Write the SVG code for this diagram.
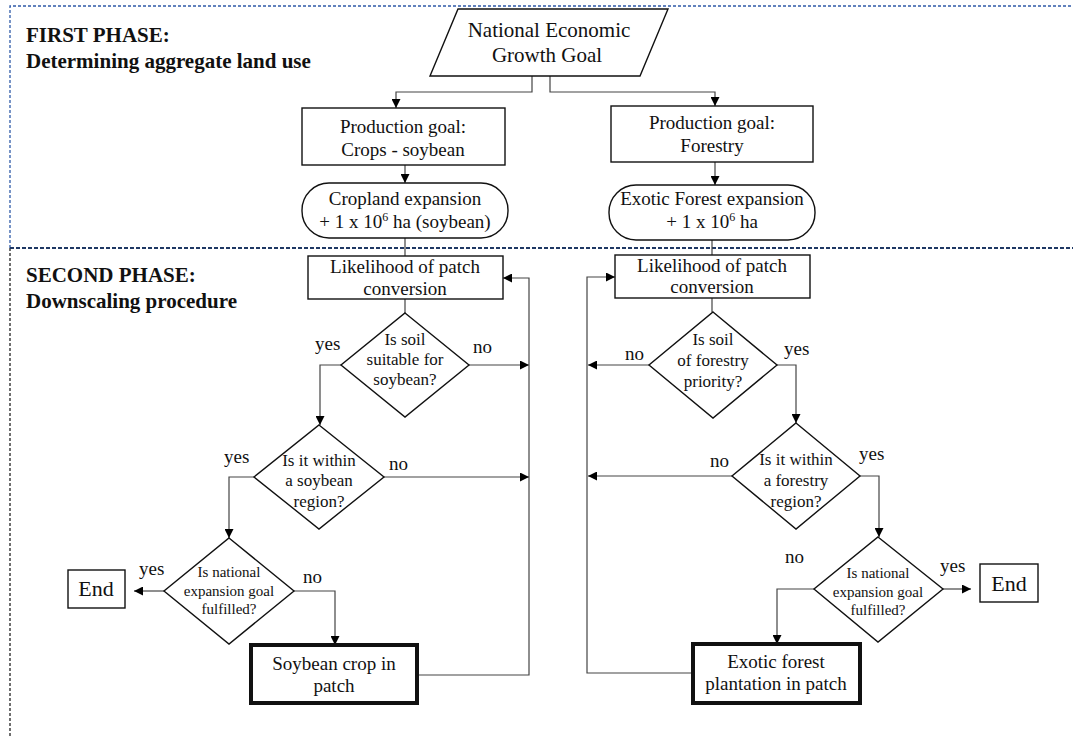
<svg xmlns="http://www.w3.org/2000/svg" width="1073" height="737" viewBox="0 0 1073 737" font-family="Liberation Serif, DejaVu Serif, serif">
<defs>
<style>
text{font-family:'Liberation Serif','DejaVu Serif',serif;fill:#111;}
.t{font-size:19px;text-anchor:middle;}
.d{font-size:17px;text-anchor:middle;}
.s{font-size:15px;text-anchor:middle;}
.lb{font-size:19px;}
.h{font-size:21px;font-weight:bold;}
.e{font-size:22px;text-anchor:middle;}
.box{fill:#fff;stroke:#111;stroke-width:1.4;}
.thick{fill:#fff;stroke:#111;stroke-width:4;}
.c{fill:none;stroke:#444;stroke-width:1.2;}
.ca{fill:none;stroke:#444;stroke-width:1.2;marker-end:url(#ah);}
</style>
<marker id="ah" viewBox="0 0 10 10" refX="10" refY="5" markerWidth="9" markerHeight="9" markerUnits="userSpaceOnUse" orient="auto">
<path d="M0,0 L10,5 L0,10 z" fill="#000"/>
</marker>
</defs>
<rect width="1073" height="737" fill="#fff"/>

<g id="frame">
<path d="M10,248 V6 H1073" fill="none" stroke="#2f5aa8" stroke-width="1.3" stroke-dasharray="3,2"/>
<path d="M10,248 V737" fill="none" stroke="#222" stroke-width="1.3" stroke-dasharray="3,2"/>
<path d="M10,248 H1073" fill="none" stroke="#1f3864" stroke-width="1.8" stroke-dasharray="4,2"/>
</g>

<g id="titles">
<text class="h" x="26" y="42">FIRST PHASE:</text>
<text class="h" x="26" y="68">Determining aggregate land use</text>
<text class="h" x="26" y="282">SECOND PHASE:</text>
<text class="h" x="26" y="308">Downscaling procedure</text>
</g>

<g id="connectors">
<path class="ca" d="M532,76 V92 H396 V108"/>
<path class="ca" d="M550,76 V92 H715 V106"/>
<path class="ca" d="M405,165 V183"/>
<path class="ca" d="M715,162 V185"/>
<path class="c" d="M405,238 V256"/>
<path class="c" d="M712,240 V255"/>
<path class="c" d="M405,299 V313"/>
<path class="ca" d="M469,365 H529"/>
<path class="ca" d="M417,675 H529 V278 H503"/>
<path class="ca" d="M341,365 H320 V425"/>
<path class="ca" d="M384,477 H529"/>
<path class="ca" d="M254,477 H229 V538"/>
<path class="ca" d="M164,591 H134"/>
<path class="ca" d="M294,591 H335 V645"/>
<path class="c" d="M712,298 V312"/>
<path class="ca" d="M649,365 H588"/>
<path class="ca" d="M693,673 H587 V277 H615"/>
<path class="ca" d="M777,365 H796 V423"/>
<path class="ca" d="M732,476 H588"/>
<path class="ca" d="M860,476 H879 V537"/>
<path class="ca" d="M943,589 H971"/>
<path class="ca" d="M814,589 H777 V644"/>
</g>

<g id="national-goal">
<polygon class="box" points="458,9 668,9 640,76 430,76"/>
<text class="t" style="font-size:21px" x="549" y="37">National Economic</text>
<text class="t" style="font-size:21px" x="547" y="62">Growth Goal</text>
</g>

<g id="prod-soy">
<rect class="box" x="302" y="108" width="203" height="57"/>
<text class="t" x="403" y="133">Production goal:</text>
<text class="t" x="403" y="156">Crops - soybean</text>
</g>

<g id="prod-forest">
<rect class="box" x="611" y="106" width="202" height="56"/>
<text class="t" x="712" y="129">Production goal:</text>
<text class="t" x="712" y="152">Forestry</text>
</g>

<g id="cropland-exp">
<rect class="box" x="302" y="183" width="206" height="55" rx="27" ry="27"/>
<text class="t" x="405" y="205">Cropland expansion</text>
<text class="t" x="405" y="228">+ 1 x 10<tspan font-size="12" dy="-7">6</tspan><tspan dy="7"> ha (soybean)</tspan></text>
</g>

<g id="forest-exp">
<rect class="box" x="609" y="185" width="206" height="55" rx="27" ry="27"/>
<text class="t" x="712" y="205">Exotic Forest expansion</text>
<text class="t" x="712" y="228">+ 1 x 10<tspan font-size="12" dy="-7">6</tspan><tspan dy="7"> ha</tspan></text>
</g>

<g id="likelihood-soy">
<rect class="box" x="308" y="256" width="195" height="43"/>
<text class="t" x="405" y="273">Likelihood of patch</text>
<text class="t" x="405" y="295">conversion</text>
</g>

<g id="likelihood-forest">
<rect class="box" x="615" y="255" width="195" height="43"/>
<text class="t" x="712" y="272">Likelihood of patch</text>
<text class="t" x="712" y="293">conversion</text>
</g>

<g id="soil-soy">
<polygon class="box" points="405,313 469,365 405,417 341,365"/>
<text class="d" x="405" y="345">Is soil</text>
<text class="d" x="405" y="365">suitable for</text>
<text class="d" x="405" y="385">soybean?</text>
</g>

<g id="region-soy">
<polygon class="box" points="319,425 384,477 319,529 254,477"/>
<text class="d" x="319" y="466">Is it within</text>
<text class="d" x="319" y="486">a soybean</text>
<text class="d" x="319" y="507">region?</text>
</g>

<g id="goal-soy">
<polygon class="box" points="229,538 294,591 229,644 164,591"/>
<text class="s" x="229" y="577">Is national</text>
<text class="s" x="229" y="596">expansion goal</text>
<text class="s" x="229" y="614">fulfilled?</text>
</g>

<g id="end-soy">
<rect class="box" x="68" y="570" width="57" height="38"/>
<text class="e" x="96" y="596">End</text>
</g>

<g id="soy-patch">
<rect class="thick" x="251" y="645" width="166" height="58"/>
<text class="t" x="334" y="670">Soybean crop in</text>
<text class="t" x="334" y="692">patch</text>
</g>

<g id="soil-forest">
<polygon class="box" points="713,312 777,365 713,418 649,365"/>
<text class="d" x="713" y="345">Is soil</text>
<text class="d" x="713" y="366">of forestry</text>
<text class="d" x="713" y="387">priority?</text>
</g>

<g id="region-forest">
<polygon class="box" points="796,423 860,476 796,529 732,476"/>
<text class="d" x="796" y="465">Is it within</text>
<text class="d" x="796" y="486">a forestry</text>
<text class="d" x="796" y="507">region?</text>
</g>

<g id="goal-forest">
<polygon class="box" points="878,537 943,589 878,642 814,589"/>
<text class="s" x="878" y="578">Is national</text>
<text class="s" x="878" y="597">expansion goal</text>
<text class="s" x="878" y="615">fulfilled?</text>
</g>

<g id="end-forest">
<rect class="box" x="980" y="564" width="58" height="38"/>
<text class="e" x="1009" y="591">End</text>
</g>

<g id="forest-patch">
<rect class="thick" x="693" y="644" width="167" height="59"/>
<text class="t" x="776" y="668">Exotic forest</text>
<text class="t" x="776" y="690">plantation in patch</text>
</g>

<g id="labels">
<text class="lb" x="315" y="350">yes</text>
<text class="lb" x="473" y="353">no</text>
<text class="lb" x="224" y="463">yes</text>
<text class="lb" x="389" y="470">no</text>
<text class="lb" x="139" y="575">yes</text>
<text class="lb" x="303" y="583">no</text>
<text class="lb" x="625" y="360">no</text>
<text class="lb" x="784" y="355">yes</text>
<text class="lb" x="710" y="467">no</text>
<text class="lb" x="859" y="460">yes</text>
<text class="lb" x="785" y="563">no</text>
<text class="lb" x="940" y="572">yes</text>
</g>
</svg>
